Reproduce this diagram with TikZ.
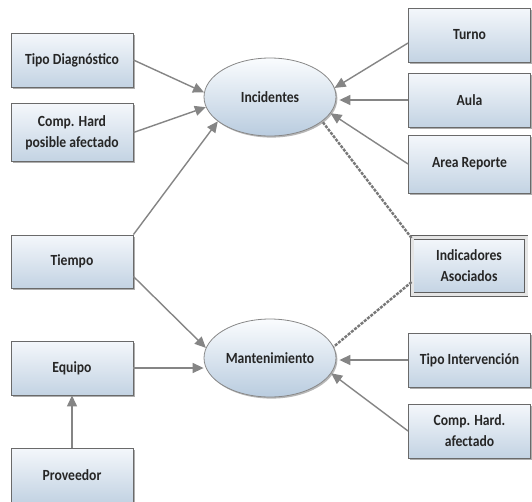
\documentclass[tikz,border=0pt]{standalone}
\usepackage{fontspec}
\setmainfont{Carlito}[FakeStretch=0.88]
\usetikzlibrary{shadows,arrows.meta,shapes.geometric}
\definecolor{boxtop}{HTML}{F4F7FB}
\definecolor{boxbot}{HTML}{C3D3E3}
\definecolor{edgec}{HTML}{6A6A6A}
\definecolor{arr}{HTML}{858585}
\definecolor{txt}{HTML}{262626}
\definecolor{elltop}{HTML}{FAFCFE}
\definecolor{ellbot}{HTML}{B9CCDF}
\tikzset{
  box/.style={draw=edgec, line width=0.9pt, top color=boxtop, bottom color=boxbot,
    minimum width=122pt, inner sep=2pt, align=center,
    font=\bfseries\fontsize{15.5}{21}\selectfont, text=txt,
    drop shadow={shadow xshift=1.6pt, shadow yshift=-1.6pt, opacity=0.45, fill=black!70}},
  ell/.style={ellipse, draw=edgec!80, line width=0.8pt, top color=elltop, bottom color=ellbot,
    minimum width=132pt, minimum height=78pt, inner sep=0pt,
    font=\bfseries\fontsize{15.5}{21}\selectfont, text=txt,
    drop shadow={shadow xshift=1.4pt, shadow yshift=-1.6pt, opacity=0.4, fill=black!70}},
  arrowc/.style={draw=arr, line width=1.4pt, -{Triangle[length=11pt,width=10pt]}},
  dashlink/.style={draw=arr!90!black, line width=2.4pt, dash pattern=on 3pt off 1.2pt},
}
\begin{document}
\begin{tikzpicture}[x=1pt,y=-1pt]
\useasboundingbox (0,0) rectangle (532,501);
\fill[white] (0,0) rectangle (532,501);
% left boxes
\node[box, minimum height=54pt] (tipod) at (72,60) {Tipo Diagnóstico};
\node[box, minimum height=58pt] (comph) at (72,132.5) {Comp. Hard\\posible afectado};
\node[box, minimum height=53pt] (tiempo) at (72,261.5) {Tiempo};
\node[box, minimum height=54pt] (equipo) at (72,368) {Equipo};
\node[box, minimum height=54pt] (prov) at (72,475) {Proveedor};
% right boxes
\node[box, minimum height=54pt] (turno) at (469.5,35) {Turno};
\node[box, minimum height=54pt] (aula) at (469.5,100) {Aula};
\node[box, minimum height=58pt] (area) at (469.5,164) {Area Reporte};
\node[box, draw=edgec!90!black, minimum width=114pt, minimum height=57pt, double=white!80!gray, double distance=3pt] (ind) at (469,266) {Indicadores\\Asociados};
\node[box, minimum height=54pt] (tipoi) at (469.5,360) {Tipo Intervención};
\node[box, minimum height=54pt] (comphd) at (469.5,431) {Comp. Hard.\\afectado};
% ellipses
\node[ell] (inc) at (270,97) {Incidentes};
\node[ell] (mant) at (270,358) {Mantenimiento};
% connectors to Incidentes
\draw[arrowc] (tipod.east) -- (inc.176);
\draw[arrowc] (comph.east) -- (inc.189);
\draw[arrowc] (tiempo.north east) -- (inc.205);
\draw[arrowc] ([yshift=-8pt]turno.west) -- (inc.8);
\draw[arrowc, shorten >=3pt] (aula.west) -- (aula.west -| inc.east);
\draw[arrowc] (area.west) -- (inc.345);
\coordinate (indtop) at ([yshift=28pt]ind.west);
\coordinate (indbot) at ([yshift=-16pt]ind.west);
\draw[dashlink] (indtop) -- (inc.335);
% connectors to Mantenimiento
\draw[arrowc] ([yshift=-15pt]tiempo.east) -- (mant.171);
\draw[arrowc] (equipo.east) -- (equipo.east -| mant.west);
\draw[arrowc, shorten >=3pt] (tipoi.west) -- (tipoi.west -| mant.east);
\draw[arrowc] (comphd.west) -- (mant.346);
\draw[dashlink] (indbot) -- (mant.10);
\draw[arrowc] (prov.north) -- (equipo.south);
\end{tikzpicture}
\end{document}
